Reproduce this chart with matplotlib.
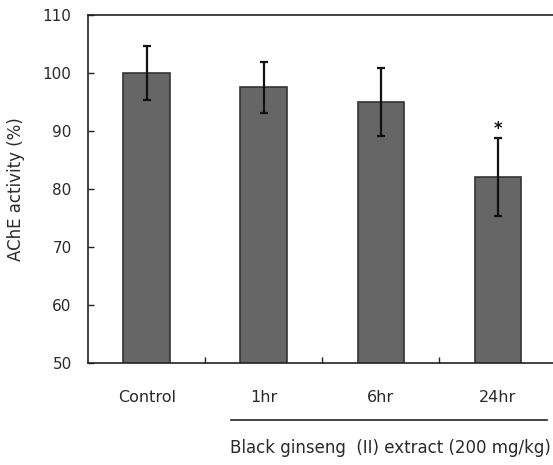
import matplotlib
matplotlib.use('Agg')
import matplotlib.pyplot as plt
import matplotlib.transforms as mtransforms

# values
groups = ['Control', '1hr', '6hr', '24hr']
activity = [100.0, 97.5, 95.0, 82.0]
sd = [4.6, 4.4, 5.9, 6.7]
signif = ['', '', '', '*']
yticks = [50, 60, 70, 80, 90, 100, 110]
group_label = 'Black ginseng  (II) extract (200 mg/kg)'

txt = '#2a2a2a'
fig = plt.figure(figsize=(5.53, 4.65), dpi=100)
ax = fig.add_axes([0.1597, 0.22, 0.8403, 0.7477])

x = list(range(len(groups)))
ax.bar(x, activity, width=0.40, color='#666666', edgecolor='#333333', linewidth=1.2, zorder=2)
ax.errorbar(x, activity, yerr=sd, fmt='none', ecolor='#111111', elinewidth=1.6,
            capsize=3, capthick=1.6, zorder=3)

for xi, m, s, lab in zip(x, activity, sd, signif):
    if lab:
        ax.text(xi, m + s + 0.1, lab, ha='center', va='bottom', fontsize=12,
                fontweight='bold', color='#111111')

ax.set_xlim(-0.5, 3.47)
ax.set_ylim(50, 110)
ax.set_yticks(yticks)
ax.set_xticks([0.5, 1.5, 2.5])
ax.set_xticklabels([])
ax.tick_params(axis='x', which='major', direction='in', length=4, width=1, color='#222222')
ax.set_xticks(x, minor=True)
ax.set_xticklabels(groups, minor=True, fontsize=11.5, color=txt)
ax.tick_params(axis='x', which='minor', length=0, pad=20)
ax.tick_params(axis='y', direction='in', length=4, width=1, labelsize=11, pad=12,
               color='#222222', labelcolor=txt)
ax.set_ylabel('AChE activity (%)', fontsize=12, labelpad=13, color=txt)

for side in ['left', 'top', 'bottom']:
    ax.spines[side].set_linewidth(1.2)
    ax.spines[side].set_color('#222222')
ax.spines['right'].set_visible(False)

trans = mtransforms.blended_transform_factory(ax.transData, ax.transAxes)
ax.plot([0.72, 3.42], [-0.165, -0.165], color='#222222', linewidth=1.2,
        transform=trans, clip_on=False)
ax.text(2.08, -0.245, group_label, transform=trans, ha='center', va='center',
        fontsize=12, color=txt)

fig.savefig('out.png', dpi=100)
